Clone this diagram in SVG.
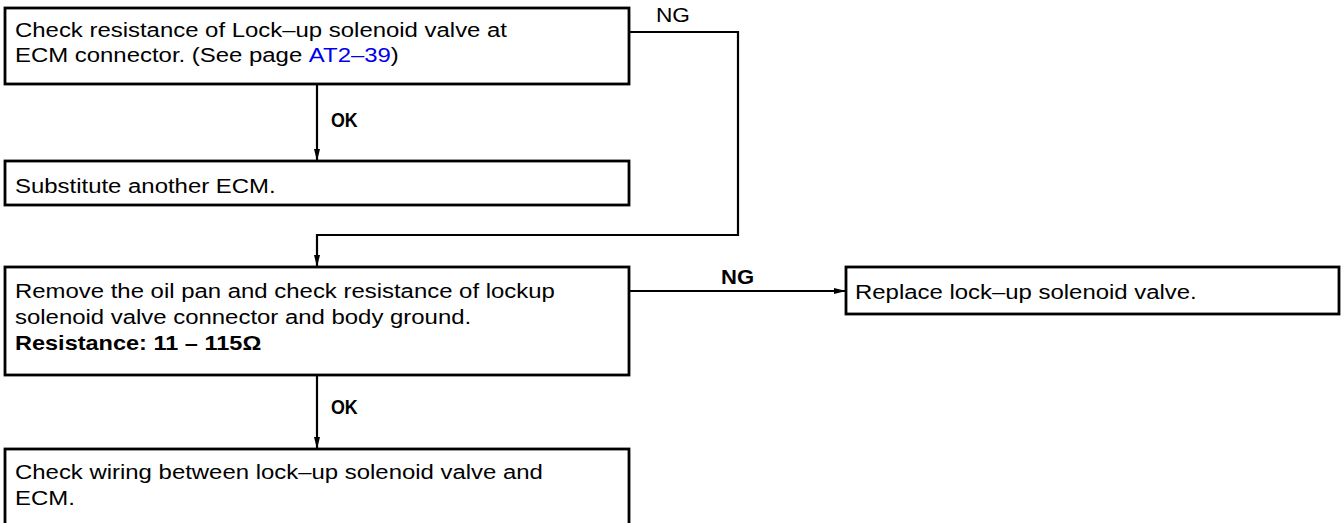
<svg xmlns="http://www.w3.org/2000/svg" width="1344" height="523" viewBox="0 0 1344 523">
<defs>
<marker id="arr" viewBox="0 0 12 8" refX="12" refY="4" markerWidth="12" markerHeight="8" markerUnits="userSpaceOnUse" orient="auto">
<path d="M0,1 L12,4 L0,7 Z" fill="#000"/>
</marker>
<style>
.box{fill:#fff;stroke:#000;stroke-width:2.8}
.t{font-family:"Liberation Sans",Arial,sans-serif;font-size:21px;fill:#000}
.b{font-weight:bold}
.lbl{font-family:"Liberation Sans",Arial,sans-serif;font-size:21px;fill:#000}
.ln{fill:none;stroke:#000;stroke-width:2.2}
.link{fill:#0000ee}
</style>
</defs>
<rect width="1344" height="523" fill="#fff"/>
<g id="connectors">
<line class="ln" x1="317" y1="84" x2="317" y2="161" marker-end="url(#arr)"/>
<text class="lbl b" transform="translate(331,127) scale(0.85,1)">OK</text>
<polyline class="ln" points="629,32 738,32 738,235 317,235 317,267" marker-end="url(#arr)"/>
<text class="lbl" transform="translate(656,22) scale(1.08,1)">NG</text>
<line class="ln" x1="629" y1="291" x2="846" y2="291" marker-end="url(#arr)"/>
<text class="lbl b" transform="translate(721,284) scale(1.05,1)">NG</text>
<line class="ln" x1="317" y1="375" x2="317" y2="449" marker-end="url(#arr)"/>
<text class="lbl b" transform="translate(331,414) scale(0.85,1)">OK</text>
</g>
<g id="n1">
<rect class="box" x="5" y="8" width="624" height="76"/>
<text class="t" transform="translate(15,37) scale(1.14,1)">Check resistance of Lock–up solenoid valve at</text>
<text class="t" transform="translate(15,62) scale(1.14,1)">ECM connector. (See page <tspan class="link">AT2–39</tspan>)</text>
</g>
<g id="n2">
<rect class="box" x="5" y="161" width="624" height="44"/>
<text class="t" transform="translate(15,193) scale(1.14,1)">Substitute another ECM.</text>
</g>
<g id="n3">
<rect class="box" x="5" y="267" width="624" height="108"/>
<text class="t" transform="translate(15,298) scale(1.14,1)">Remove the oil pan and check resistance of lockup</text>
<text class="t" transform="translate(15,324) scale(1.14,1)">solenoid valve connector and body ground.</text>
<text class="t b" transform="translate(15,350) scale(1.12,1)">Resistance: 11 – 115Ω</text>
</g>
<g id="n4">
<rect class="box" x="846" y="267" width="493" height="47"/>
<text class="t" transform="translate(855,299) scale(1.14,1)">Replace lock–up solenoid valve.</text>
</g>
<g id="n5">
<rect class="box" x="5" y="449" width="624" height="90"/>
<text class="t" transform="translate(15,479) scale(1.14,1)">Check wiring between lock–up solenoid valve and</text>
<text class="t" transform="translate(15,505) scale(1.14,1)">ECM.</text>
</g>
</svg>
